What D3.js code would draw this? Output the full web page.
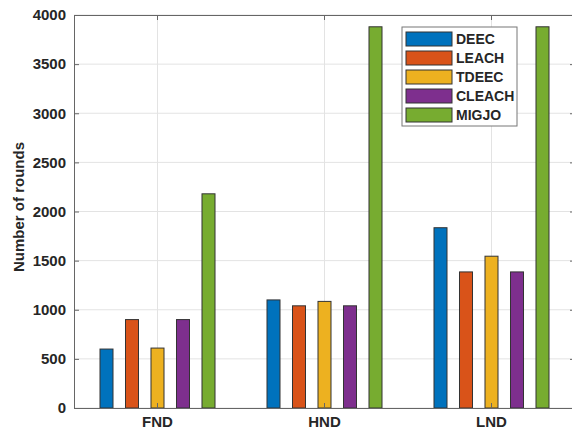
<!DOCTYPE html>
<html><head><meta charset="utf-8">
<script src="https://cdn.jsdelivr.net/npm/d3@7"></script>
<style>body{margin:0;background:#fff}svg{display:block}text{font-family:Arial,"Liberation Sans",sans-serif;font-weight:bold;fill:#262626}</style>
</head><body>
<svg id="c" width="572" height="432"></svg>
<script>
const categories = ["FND","HND","LND"];
const seriesNames = ["DEEC","LEACH","TDEEC","CLEACH","MIGJO"];
const DEEC   = [600, 1100, 1835];
const LEACH  = [900, 1040, 1385];
const TDEEC  = [610, 1085, 1545];
const CLEACH = [900, 1040, 1385];
const MIGJO  = [2180, 3880, 3880];
const seriesValues = [DEEC, LEACH, TDEEC, CLEACH, MIGJO];
const colors = ["#0072BD","#D95319","#EDB120","#7E2F8E","#77AC30"];
const yTicks = [0,500,1000,1500,2000,2500,3000,3500,4000];

const svg = d3.select("#c");
const L = 74, R = 575, T = 15, B = 408;
const x0 = d3.scaleBand().domain(categories).range([L, R]).padding(0);
const x1 = d3.scaleBand().domain(seriesNames).range([-63.75, 63.75]).paddingInner(0.49).paddingOuter(0.245);
const y = d3.scaleLinear().domain([0, 4000]).range([B, T]);

// grid
const g = svg.append("g");
g.selectAll(".hg").data(yTicks).join("line")
  .attr("x1", L).attr("x2", R).attr("y1", d => y(d)).attr("y2", d => y(d))
  .attr("stroke", "#e3e3e3").attr("stroke-width", 1);
g.selectAll(".vg").data(categories).join("line")
  .attr("x1", d => x0(d) + x0.bandwidth()/2).attr("x2", d => x0(d) + x0.bandwidth()/2)
  .attr("y1", T).attr("y2", B)
  .attr("stroke", "#e3e3e3").attr("stroke-width", 1);

// bars
const data = [];
categories.forEach((c, i) => seriesNames.forEach((s, j) => data.push({c, s, v: seriesValues[j][i], color: colors[j]})));
svg.append("g").selectAll("rect").data(data).join("rect")
  .attr("x", d => x0(d.c) + x0.bandwidth()/2 + x1(d.s))
  .attr("width", x1.bandwidth())
  .attr("y", d => y(d.v))
  .attr("height", d => B - y(d.v))
  .attr("fill", d => d.color)
  .attr("stroke", "#333").attr("stroke-width", 1);

// axes
const axL = d3.axisLeft(y).tickValues(yTicks).tickFormat(d3.format("d")).tickSizeInner(-5).tickSizeOuter(0).tickPadding(8);
const axB = d3.axisBottom(x0).tickSizeInner(-5).tickSizeOuter(0).tickPadding(8);
const axT = d3.axisTop(x0).tickSizeInner(-5).tickSizeOuter(0).tickFormat("");
const axR = d3.axisRight(y).tickValues(yTicks).tickSizeInner(-5).tickSizeOuter(0).tickFormat("");
function style(sel){
  sel.select(".domain").attr("stroke", "#666");
  sel.selectAll(".tick line").attr("stroke", "#666");
  sel.selectAll(".tick text").attr("fill", "#262626").style("font-size", "15px").style("font-weight", "bold").style("font-family", "Arial, 'Liberation Sans', sans-serif");
}
svg.append("g").attr("transform", `translate(${L},0)`).call(axL).call(style);
svg.append("g").attr("transform", `translate(0,${B})`).call(axB).call(style);
svg.append("g").attr("transform", `translate(0,${T})`).call(axT).call(style);
svg.append("g").attr("transform", `translate(${R},0)`).call(axR).call(style);

// y label
svg.append("text").attr("transform", `translate(24,207) rotate(-90)`)
  .attr("text-anchor", "middle").style("font-size", "15px").text("Number of rounds");

// legend
const lg = svg.append("g").attr("transform", "translate(402,27)");
lg.append("rect").attr("width", 115).attr("height", 99).attr("fill", "#fff").attr("stroke", "#777");
const items = lg.selectAll(".it").data(seriesNames).join("g")
  .attr("transform", (d, i) => `translate(0,${12 + i*19})`);
items.append("rect").attr("x", 4).attr("y", -7).attr("width", 46).attr("height", 14)
  .attr("fill", (d, i) => colors[i]).attr("stroke", "#333");
items.append("text").attr("x", 54).attr("dy", "0.36em").style("font-size", "14px").text(d => d);
</script>
</body></html>
